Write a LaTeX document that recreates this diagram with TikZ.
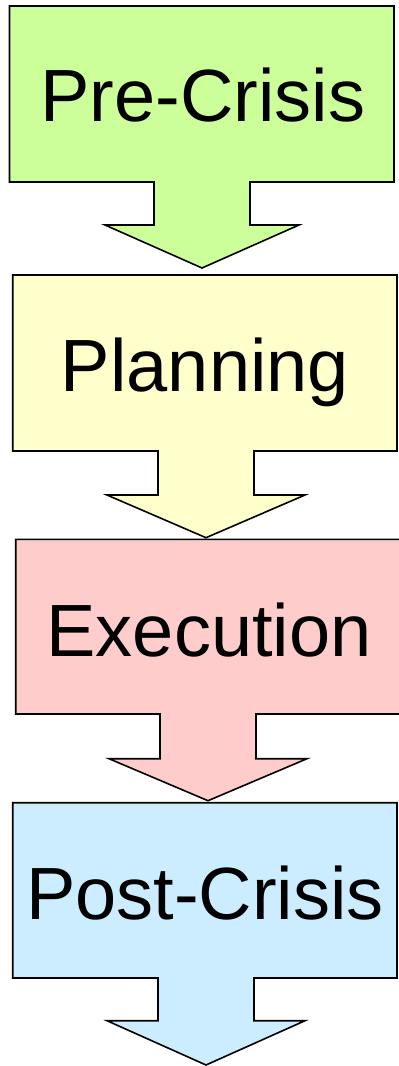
\documentclass[tikz,border=0pt]{standalone}
\usepackage{fontspec}
\setmainfont{Liberation Sans}
\definecolor{cgreen}{HTML}{CCFF99}
\definecolor{cyellow}{HTML}{FFFFCC}
\definecolor{cpink}{HTML}{FFCCCC}
\definecolor{cblue}{HTML}{CCECFF}
\tikzset{
  callout/.style={draw=black, line width=1.6pt, line join=miter},
  phase/.style={font=\fontsize{74}{80}\selectfont, text=black, inner sep=0pt}
}
% #1 fill, #2 left, #3 top, #4 right, #5 bottom, #6 shaft left, #7 shaft right,
% #8 shoulder y, #9 wing left ; wing right and tip computed from symmetry
\newcommand{\downcallout}[9]{%
  \pgfmathsetmacro{\cx}{(#6+#7)/2}%
  \pgfmathsetmacro{\wr}{2*\cx-#9}%
  \path[callout, fill=#1] (#2,#3) -- (#4,#3) -- (#4,#5) -- (#7,#5) -- (#7,#8)
    -- (\wr,#8) -- (\cx,\tipy) -- (#9,#8) -- (#6,#8) -- (#6,#5) -- (#2,#5) -- cycle;%
}
\begin{document}
\begin{tikzpicture}[x=1pt,y=-1pt]
\useasboundingbox (0,0) rectangle (399,1066);
\fill[white] (0,0) rectangle (399,1066);

\def\tipy{268}
\downcallout{cgreen}{9.5}{6}{394}{182}{154}{250}{225}{105}
\def\tipy{537.7}
\downcallout{cyellow}{12.7}{275}{397}{451}{158}{254}{495}{107}
\def\tipy{800.7}
\downcallout{cpink}{15.7}{539.3}{400.5}{714}{160}{256}{758.7}{109}
\def\tipy{1065}
\downcallout{cblue}{12.7}{802.7}{397}{978}{158}{254}{1020.7}{107}

\node[phase, anchor=base] (pre)  at (203,121) {Pre-Crisis};
\node[phase, anchor=base] (plan) at (205,391) {Planning};
\node[phase, anchor=base] (exec) at (209,656) {Execution};
\node[phase, anchor=base] (post) at (205,919) {Post-Crisis};
\end{tikzpicture}
\end{document}
